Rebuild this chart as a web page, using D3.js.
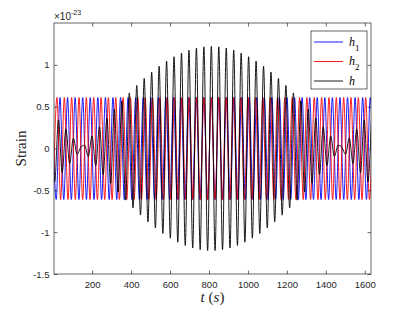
<!DOCTYPE html>
<html><head><meta charset="utf-8">
<script src="https://cdn.jsdelivr.net/npm/d3@7"></script>
<style>body{margin:0;background:#fff}svg{display:block}</style>
</head><body><svg id="c" width="415" height="312"></svg>
<script>
// ---- data ----
const xDomain = [4, 1632];
const yDomain = [-1.5, 1.5];
const xTicks = [200, 400, 600, 800, 1000, 1200, 1400, 1600];
const yTicks = [-1.5, -1, -0.5, 0, 0.5, 1];
const yExponent = "-23";
const seriesNames = ["h1", "h2", "h"];
const seriesColors = ["#0000ff", "#ff0000", "#000000"];

// extrema (time s, strain ×1e-23) of each curve
const h1 = [[-4.0,0.61],[15.4,-0.61],[34.8,0.61],[54.2,-0.61],[73.7,0.61],[93.1,-0.61],[112.5,0.61],[132.0,-0.61],[151.4,0.61],[170.8,-0.61],[190.2,0.61],[209.7,-0.61],[229.1,0.61],[248.5,-0.61],[268.0,0.61],[287.4,-0.61],[306.8,0.61],[326.3,-0.61],[345.7,0.61],[365.1,-0.61],[384.5,0.61],[404.0,-0.61],[423.4,0.61],[442.8,-0.61],[462.3,0.61],[481.7,-0.61],[501.1,0.61],[520.6,-0.61],[540.0,0.61],[559.4,-0.61],[578.8,0.61],[598.3,-0.61],[617.7,0.61],[637.1,-0.61],[656.6,0.61],[676.0,-0.61],[695.4,0.61],[714.9,-0.61],[734.3,0.61],[753.7,-0.61],[773.1,0.61],[792.6,-0.61],[812.0,0.61],[831.4,-0.61],[850.9,0.61],[870.3,-0.61],[889.7,0.61],[909.1,-0.61],[928.6,0.61],[948.0,-0.61],[967.4,0.61],[986.9,-0.61],[1006.3,0.61],[1025.7,-0.61],[1045.2,0.61],[1064.6,-0.61],[1084.0,0.61],[1103.4,-0.61],[1122.9,0.61],[1142.3,-0.61],[1161.7,0.61],[1181.2,-0.61],[1200.6,0.61],[1220.0,-0.61],[1239.5,0.61],[1258.9,-0.61],[1278.3,0.61],[1297.7,-0.61],[1317.2,0.61],[1336.6,-0.61],[1356.0,0.61],[1375.5,-0.61],[1394.9,0.61],[1414.3,-0.61],[1433.7,0.61],[1453.2,-0.61],[1472.6,0.61],[1492.0,-0.61],[1511.5,0.61],[1530.9,-0.61],[1550.3,0.61],[1569.8,-0.61],[1589.2,0.61],[1608.6,-0.61],[1628.0,0.61],[1647.5,-0.61]];

const h2 = [[0.2,-0.61],[19.1,0.61],[38.0,-0.61],[56.9,0.61],[75.8,-0.61],[94.6,0.61],[113.5,-0.61],[132.4,0.61],[151.3,-0.61],[170.1,0.61],[189.0,-0.61],[207.9,0.61],[226.8,-0.61],[245.7,0.61],[264.5,-0.61],[283.4,0.61],[302.3,-0.61],[321.2,0.61],[340.0,-0.61],[358.9,0.61],[377.8,-0.61],[396.7,0.61],[415.6,-0.61],[434.4,0.61],[453.3,-0.61],[472.2,0.61],[491.1,-0.61],[509.9,0.61],[528.8,-0.61],[547.7,0.61],[566.6,-0.61],[585.5,0.61],[604.3,-0.61],[623.2,0.61],[642.1,-0.61],[661.0,0.61],[679.9,-0.61],[698.7,0.61],[717.6,-0.61],[736.5,0.61],[755.4,-0.61],[774.2,0.61],[793.1,-0.61],[812.0,0.61],[830.9,-0.61],[849.8,0.61],[868.6,-0.61],[887.5,0.61],[906.4,-0.61],[925.3,0.61],[944.1,-0.61],[963.0,0.61],[981.9,-0.61],[1000.8,0.61],[1019.7,-0.61],[1038.5,0.61],[1057.4,-0.61],[1076.3,0.61],[1095.2,-0.61],[1114.1,0.61],[1132.9,-0.61],[1151.8,0.61],[1170.7,-0.61],[1189.6,0.61],[1208.4,-0.61],[1227.3,0.61],[1246.2,-0.61],[1265.1,0.61],[1284.0,-0.61],[1302.8,0.61],[1321.7,-0.61],[1340.6,0.61],[1359.5,-0.61],[1378.3,0.61],[1397.2,-0.61],[1416.1,0.61],[1435.0,-0.61],[1453.9,0.61],[1472.7,-0.61],[1491.6,0.61],[1510.5,-0.61],[1529.4,0.61],[1548.2,-0.61],[1567.1,0.61],[1586.0,-0.61],[1604.9,0.61],[1623.8,-0.61],[1642.6,0.61]];

const h = [[-11.5,0.446],[7.7,-0.394],[26.9,0.342],[46.0,-0.288],[65.2,0.234],[84.3,-0.180],[103.5,0.125],[122.6,-0.070],[141.8,0.015],[160.9,0.040],[180.1,-0.095],[199.2,0.150],[218.4,-0.205],[237.5,0.259],[256.7,-0.312],[275.8,0.365],[295.0,-0.418],[314.1,0.469],[333.3,-0.520],[352.4,0.569],[371.6,-0.617],[390.7,0.664],[409.9,-0.710],[429.0,0.754],[448.2,-0.796],[467.3,0.837],[486.5,-0.877],[505.6,0.914],[524.8,-0.950],[543.9,0.983],[563.1,-1.015],[582.2,1.045],[601.4,-1.072],[620.5,1.097],[639.7,-1.120],[658.8,1.141],[678.0,-1.159],[697.1,1.175],[716.3,-1.189],[735.4,1.200],[754.6,-1.209],[773.7,1.215],[792.9,-1.219],[812.0,1.220],[831.2,-1.219],[850.3,1.215],[869.5,-1.209],[888.6,1.200],[907.8,-1.189],[926.9,1.175],[946.1,-1.159],[965.2,1.141],[984.4,-1.120],[1003.5,1.097],[1022.7,-1.072],[1041.8,1.045],[1061.0,-1.015],[1080.1,0.983],[1099.3,-0.950],[1118.4,0.914],[1137.6,-0.877],[1156.7,0.837],[1175.9,-0.796],[1195.0,0.754],[1214.2,-0.710],[1233.3,0.664],[1252.5,-0.617],[1271.6,0.569],[1290.8,-0.520],[1309.9,0.469],[1329.1,-0.418],[1348.2,0.365],[1367.4,-0.312],[1386.5,0.259],[1405.7,-0.205],[1424.8,0.150],[1444.0,-0.095],[1463.1,0.040],[1482.3,0.015],[1501.4,-0.070],[1520.6,0.125],[1539.7,-0.180],[1558.9,0.234],[1578.0,-0.288],[1597.2,0.342],[1616.3,-0.394],[1635.5,0.446]];

const seriesData = [h1, h2, h];

// ---- layout ----
const L = 54, R = 371, T = 23, B = 274;
const axisColor = "#262626";
const sans = "'Liberation Sans', Arial, Helvetica, sans-serif";
const serif = "'Liberation Serif', 'Times New Roman', serif";

const svg = d3.select("#c");
const x = d3.scaleLinear().domain(xDomain).range([L, R]);
const y = d3.scaleLinear().domain(yDomain).range([B, T]);

svg.append("defs").append("clipPath").attr("id", "clip")
  .append("rect").attr("x", L).attr("y", T).attr("width", R - L).attr("height", B - T);

// lines
const line = d3.line().x(d => x(d[0])).y(d => y(d[1])).curve(d3.curveMonotoneX);
const plot = svg.append("g").attr("clip-path", "url(#clip)");
seriesData.forEach((s, i) => {
  plot.append("path").datum(s).attr("d", line)
    .attr("fill", "none").attr("stroke", seriesColors[i]).attr("stroke-width", 0.9);
});

// axes
const tk = 3.5;
function styleAxis(g) {
  g.select(".domain").remove();
  g.selectAll("line").attr("stroke", axisColor).attr("stroke-width", 0.7);
  g.selectAll("text").attr("fill", axisColor).style("font-family", sans).style("font-size", "9.5px");
}
svg.append("g").attr("transform", `translate(0,${B})`)
  .call(d3.axisBottom(x).tickValues(xTicks).tickSizeInner(-tk).tickSizeOuter(0).tickPadding(7).tickFormat(d3.format("d")))
  .call(styleAxis);
svg.append("g").attr("transform", `translate(0,${T})`)
  .call(d3.axisTop(x).tickValues(xTicks).tickSizeInner(-tk).tickSizeOuter(0).tickFormat(""))
  .call(styleAxis);
svg.append("g").attr("transform", `translate(${L},0)`)
  .call(d3.axisLeft(y).tickValues(yTicks).tickSizeInner(-tk).tickSizeOuter(0).tickPadding(4.5).tickFormat(d => String(d)))
  .call(styleAxis);
svg.append("g").attr("transform", `translate(${R},0)`)
  .call(d3.axisRight(y).tickValues(yTicks).tickSizeInner(-tk).tickSizeOuter(0).tickFormat(""))
  .call(styleAxis);

// box
svg.append("rect").attr("x", L).attr("y", T).attr("width", R - L).attr("height", B - T)
  .attr("fill", "none").attr("stroke", axisColor).attr("stroke-width", 0.7);

// exponent
const ex = svg.append("text").attr("x", L).attr("y", 20).attr("fill", axisColor)
  .style("font-family", sans).style("font-size", "10px");
ex.append("tspan").text("\u00d710");
ex.append("tspan").attr("dy", -5.5).style("font-size", "7.2px").text(yExponent);

// axis labels
svg.append("text").attr("transform", `translate(26,${(T + B) / 2}) rotate(-90)`)
  .attr("text-anchor", "middle").attr("fill", axisColor)
  .style("font-family", serif).style("font-size", "15px").text("Strain");
const xl = svg.append("text").attr("x", (L + R) / 2).attr("y", 302).attr("text-anchor", "middle")
  .attr("fill", axisColor).style("font-family", serif).style("font-size", "15px");
xl.append("tspan").style("font-style", "italic").text("t");
xl.append("tspan").text(" (");
xl.append("tspan").style("font-style", "italic").text("s");
xl.append("tspan").text(")");

// legend
const lg = svg.append("g");
lg.append("rect").attr("x", 311).attr("y", 31).attr("width", 56).attr("height", 58)
  .attr("fill", "#fff").attr("stroke", axisColor).attr("stroke-width", 0.7);
const subs = ["1", "2", ""];
seriesNames.forEach((n, i) => {
  const yy = 42 + i * 19.5;
  lg.append("line").attr("x1", 314).attr("x2", 343).attr("y1", yy).attr("y2", yy)
    .attr("stroke", seriesColors[i]).attr("stroke-width", 0.9);
  const t = lg.append("text").attr("x", 349).attr("y", yy + 3.5).attr("fill", "#000")
    .style("font-family", serif).style("font-size", "12px");
  t.append("tspan").style("font-style", "italic").text("h");
  if (subs[i]) t.append("tspan").attr("dy", 5).style("font-size", "9px").text(subs[i]);
});
</script>
</body></html>
